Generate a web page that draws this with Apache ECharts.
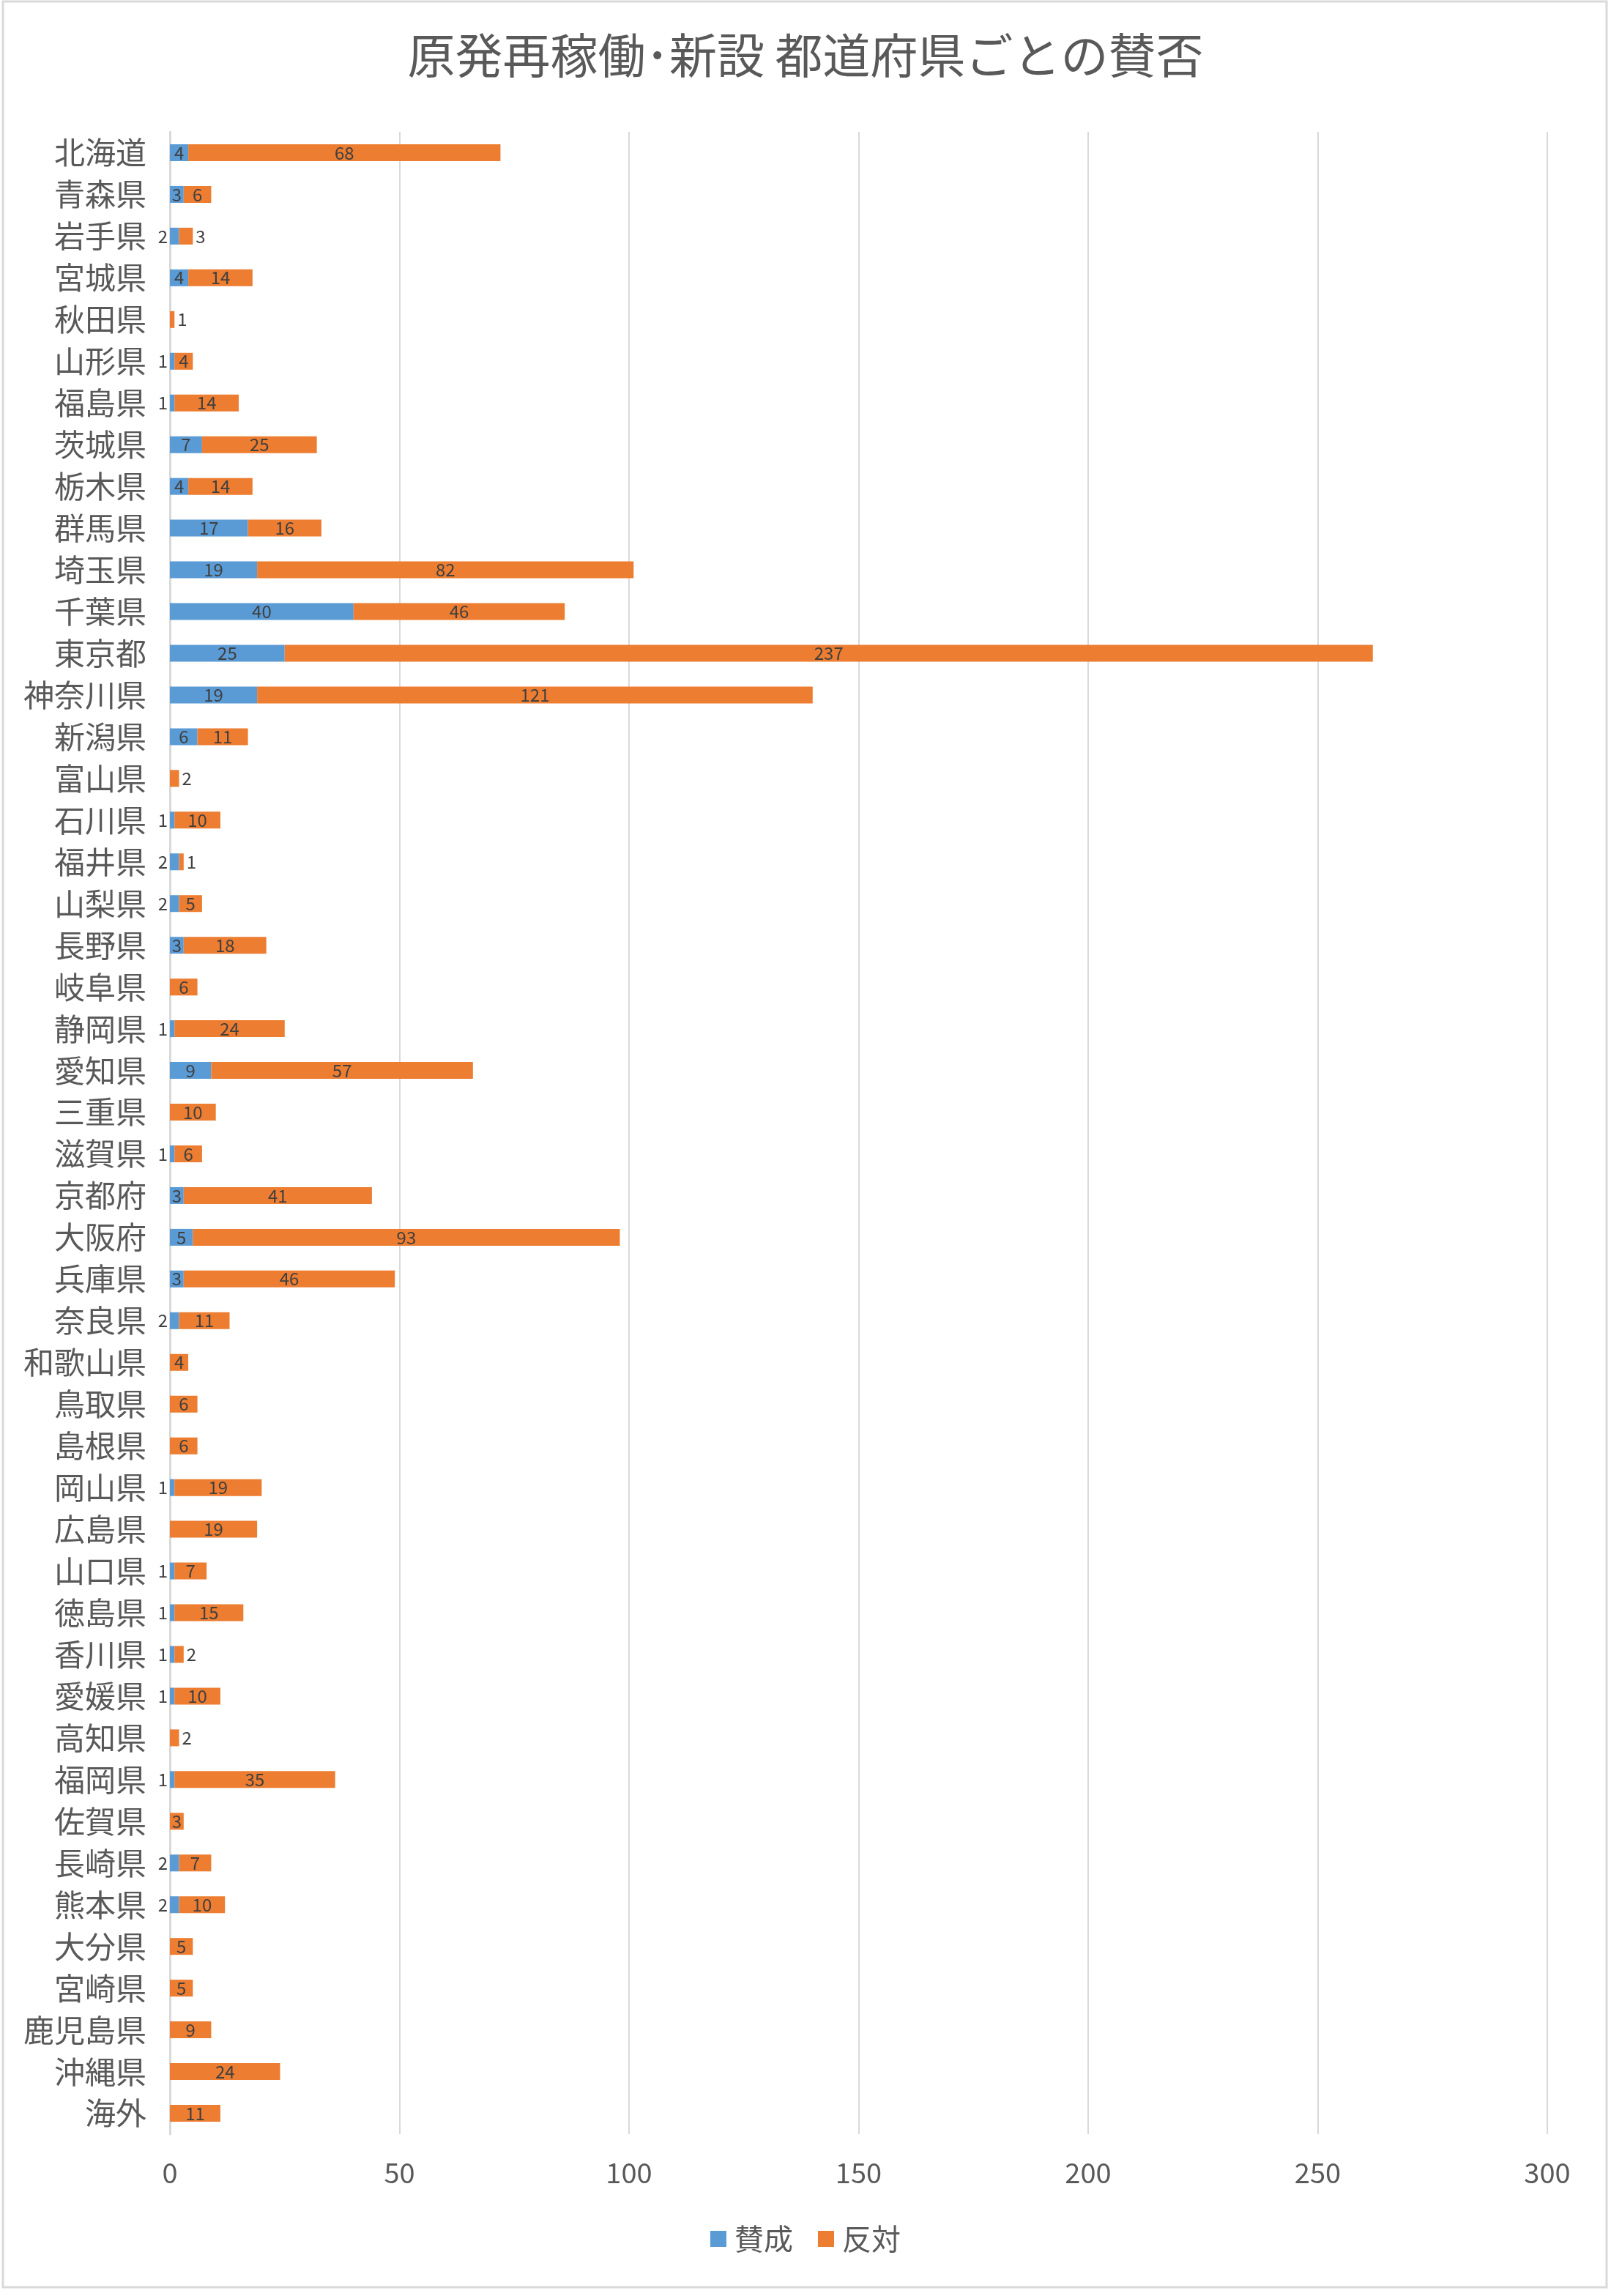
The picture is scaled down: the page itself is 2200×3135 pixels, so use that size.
<!DOCTYPE html>
<html>
<head>
<meta charset="utf-8">
<script src="https://cdn.jsdelivr.net/npm/echarts@6/dist/echarts.min.js"></script>
<style>
  html, body { margin: 0; padding: 0; background: #fff; }
  #chart { width: 2200px; height: 3135px; }
</style>
</head>
<body>
<div id="chart"></div>
<script>
const prefectures = [
  '北海道', '青森県', '岩手県', '宮城県', '秋田県', '山形県', '福島県', '茨城県',
  '栃木県', '群馬県', '埼玉県', '千葉県', '東京都', '神奈川県', '新潟県', '富山県',
  '石川県', '福井県', '山梨県', '長野県', '岐阜県', '静岡県', '愛知県', '三重県',
  '滋賀県', '京都府', '大阪府', '兵庫県', '奈良県', '和歌山県', '鳥取県', '島根県',
  '岡山県', '広島県', '山口県', '徳島県', '香川県', '愛媛県', '高知県', '福岡県',
  '佐賀県', '長崎県', '熊本県', '大分県', '宮崎県', '鹿児島県', '沖縄県', '海外'
];
const sanseiValues = [
  4, 3, 2, 4, 0, 1, 1, 7,
  4, 17, 19, 40, 25, 19, 6, 0,
  1, 2, 2, 3, 0, 1, 9, 0,
  1, 3, 5, 3, 2, 0, 0, 0,
  1, 0, 1, 1, 1, 1, 0, 1,
  0, 2, 2, 0, 0, 0, 0, 0
];
const hantaiValues = [
  68, 6, 3, 14, 1, 4, 14, 25,
  14, 16, 82, 46, 237, 121, 11, 2,
  10, 1, 5, 18, 6, 24, 57, 10,
  6, 41, 93, 46, 11, 4, 6, 6,
  19, 19, 7, 15, 2, 10, 2, 35,
  3, 7, 10, 5, 5, 9, 24, 11
];
const xTicks = [0, 50, 100, 150, 200, 250, 300];

const textColor = '#595959';
const gridColor = '#D9D9D9';
const fontFamily = '"Noto Sans CJK JP", "Noto Sans", sans-serif';

// 小さい棒はラベルを外側に出す
const sanseiData = sanseiValues.map(v => {
  if (v > 0 && v <= 2) {
    return { value: v, label: { position: 'left', distance: 3 } };
  }
  return v;
});
const hantaiData = hantaiValues.map((v, i) => {
  if (v <= 2 || (v === 3 && sanseiValues[i] > 0)) {
    return { value: v, label: { position: 'right', distance: 4 } };
  }
  return v;
});

const barLabel = {
  show: true,
  position: 'inside',
  color: '#404040',
  fontSize: 24,
  fontFamily: fontFamily,
  formatter: p => (p.value === 0 ? '' : String(p.value))
};

const chart = echarts.init(document.getElementById('chart'));
chart.setOption({
  animation: false,
  textStyle: { fontFamily: fontFamily },
  color: ['#5B9BD5', '#ED7D31'],
  title: {
    text: '原発再稼働･新設 都道府県ごとの賛否',
    left: 'center',
    top: 38,
    textStyle: { fontSize: 65, fontWeight: 'normal', color: textColor, fontFamily: fontFamily }
  },
  legend: {
    data: ['賛成', '反対'],
    left: 'center',
    top: 3032,
    icon: 'rect',
    itemWidth: 22,
    itemHeight: 22,
    itemGap: 34,
    textStyle: { fontSize: 40, color: textColor, padding: [0, 0, 0, 6] }
  },
  graphic: [{
    type: 'rect',
    shape: { x: 4, y: 2, width: 2190, height: 3121 },
    style: { fill: 'none', stroke: gridColor, lineWidth: 3 },
    silent: true
  }],
  grid: {
    left: 232,
    right: 87,
    top: 180,
    bottom: 221,
    containLabel: false
  },
  xAxis: {
    type: 'value',
    min: xTicks[0],
    max: xTicks[xTicks.length - 1],
    interval: xTicks[1] - xTicks[0],
    axisLine: { show: false },
    axisTick: { show: false },
    axisLabel: { fontSize: 38, color: textColor, margin: 34 },
    splitLine: { lineStyle: { color: gridColor, width: 2 } }
  },
  yAxis: {
    type: 'category',
    inverse: true,
    data: prefectures,
    axisTick: { show: false },
    axisLine: { lineStyle: { color: gridColor, width: 3 } },
    axisLabel: { fontSize: 42, color: textColor, margin: 32 }
  },
  series: [
    {
      name: '賛成',
      type: 'bar',
      stack: 'total',
      barWidth: 23,
      label: barLabel,
      data: sanseiData
    },
    {
      name: '反対',
      type: 'bar',
      stack: 'total',
      barWidth: 23,
      label: barLabel,
      data: hantaiData
    }
  ]
});
</script>
</body>
</html>
